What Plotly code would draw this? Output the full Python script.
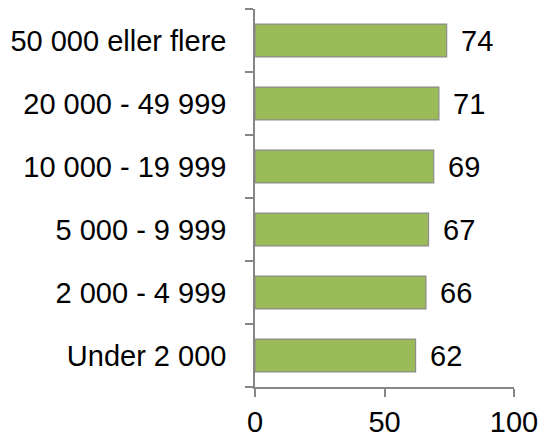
import plotly.graph_objects as go

categories = ["Under 2 000", "2 000 - 4 999", "5 000 - 9 999",
              "10 000 - 19 999", "20 000 - 49 999", "50 000 eller flere"]
values = [62, 66, 67, 69, 71, 74]
x_ticks = [0, 50, 100]

axis_grey = "#868686"
font_family = "Liberation Sans, Arial, sans-serif"

fig = go.Figure()

fig.add_trace(go.Bar(
    x=values,
    y=categories,
    orientation="h",
    marker=dict(color="#9BBB59", line=dict(color="#8C8C8C", width=1.2)),
    hoverinfo="skip",
))

# value labels a little right of each bar end
for cat, val in zip(categories, values):
    fig.add_annotation(
        x=val, y=cat, text=str(val), showarrow=False,
        xanchor="left", xshift=12,
        font=dict(family=font_family, size=29, color="#000000"),
    )

# page body has an 8px margin, so the figure is a little smaller than the window
fig.update_layout(
    width=543, height=429,
    margin=dict(l=247, r=37, t=1, b=50),
    paper_bgcolor="white", plot_bgcolor="white",
    bargap=0.48,
    showlegend=False,
    font=dict(family=font_family, size=29, color="#000000"),
)

fig.update_xaxes(
    range=[0, 100], tickvals=x_ticks, automargin=False,
    showgrid=False, zeroline=False,
    showline=True, linecolor=axis_grey, linewidth=1.5,
    ticks="outside", ticklen=8, tickwidth=1.5, tickcolor=axis_grey,
    ticklabelstandoff=0,
)

fig.update_yaxes(
    type="category", range=[-0.5, 5.5], automargin=False,
    tickson="boundaries",
    showgrid=False, zeroline=False,
    showline=True, linecolor=axis_grey, linewidth=1.5,
    ticks="outside", ticklen=8, tickwidth=1.5, tickcolor=axis_grey,
    ticklabelstandoff=21,
)

fig.write_html("out.html")
